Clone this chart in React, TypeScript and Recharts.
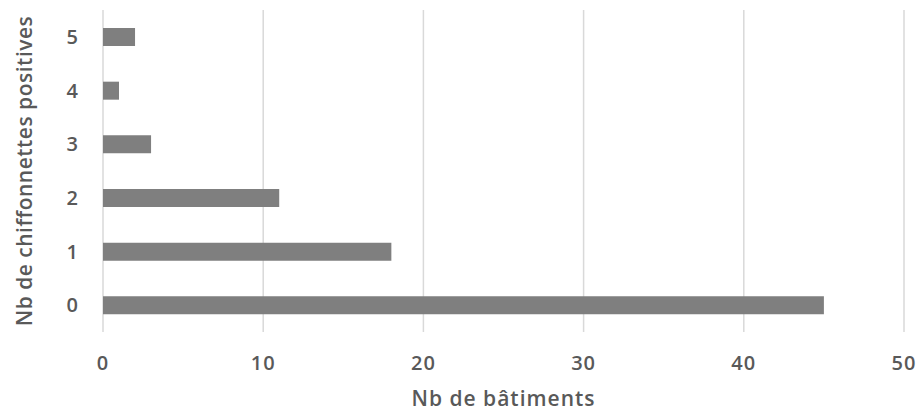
import React from 'react';
import { BarChart, Bar, XAxis, YAxis, CartesianGrid } from 'recharts';

const categories = ['0', '1', '2', '3', '4', '5'];
const values = [45, 18, 11, 3, 1, 2];
const xTicks = [0, 10, 20, 30, 40, 50];

const data = categories.map((c, i) => ({ cat: c, value: values[i] }));

const font = '"Open Sans", "Noto Sans", sans-serif';
const textStyle = { fill: '#595959', fontSize: 20, fontWeight: 600, fontFamily: font, letterSpacing: 1 };

export default function App() {
  return (
    <div style={{ position: 'absolute', left: 0, top: 0, background: '#fff' }}>
      <BarChart
        width={921}
        height={413}
        data={data}
        layout="vertical"
        margin={{ top: 10, right: 17, bottom: 0, left: 0 }}
        barCategoryGap={0}
      >
        <CartesianGrid horizontal={false} stroke="#d9d9d9" strokeWidth={1.5} />
        <XAxis
          type="number"
          domain={[0, 50]}
          ticks={xTicks}
          height={81}
          axisLine={false}
          tickLine={false}
          tickMargin={18}
          tick={textStyle}
          label={{ value: 'Nb de bâtiments', position: 'insideBottom', offset: 7, ...textStyle, fontSize: 21 }}
        />
        <YAxis
          type="category"
          dataKey="cat"
          reversed
          width={103}
          axisLine={false}
          tickLine={false}
          tickMargin={18}
          tick={textStyle}
          label={{ value: 'Nb de chiffonnettes positives', angle: -90, position: 'insideLeft', offset: 25, style: { textAnchor: 'middle' }, ...textStyle, fontSize: 21, letterSpacing: 0.5 }}
        />
        <Bar dataKey="value" fill="#7f7f7f" barSize={18} isAnimationActive={false} />
      </BarChart>
    </div>
  );
}
